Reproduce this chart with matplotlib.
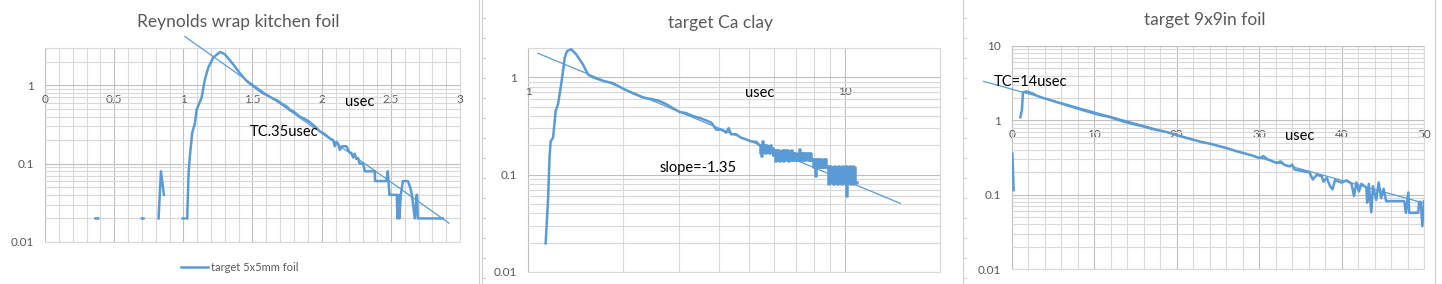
import numpy as np
import matplotlib
matplotlib.use("Agg")
import matplotlib.pyplot as plt
from matplotlib.patches import Rectangle
from matplotlib.lines import Line2D
from matplotlib.ticker import NullFormatter

nan = np.nan

# panel 1: Reynolds wrap kitchen foil (usec, signal)
foil_t = [0.365, 0.385, nan, 0.700, 0.712, nan, 0.995, 1.008, nan, 0.821,
          0.838, 0.860, nan, 1.028, 1.038, 1.047, 1.064, 1.084, 1.096, 1.132,
          1.156, 1.180, 1.216, 1.264, 1.300, 1.360, 1.409, 1.457, 1.505, 1.540,
          1.577, 1.610, 1.650, 1.680, 1.720, 1.745, 1.770, 1.800, 1.840, 1.880,
          1.914, 1.950, 1.986, 2.020, 2.060, 2.083, 2.095, 2.107, 2.119, 2.131,
          2.150, 2.179, 2.200, 2.215, 2.227, 2.239, 2.251, 2.263, 2.275, 2.300,
          2.312, 2.384, 2.386, 2.468, 2.478, 2.490, 2.507, 2.543, 2.548, 2.555,
          2.562, 2.572, 2.587, 2.623, 2.640, 2.652, 2.673, 2.686, 2.690, 2.695,
          2.876]
foil_v = [0.02, 0.02, nan, 0.02, 0.02, nan, 0.02, 0.02, nan, 0.02,
          0.08, 0.04, nan, 0.02, 0.076, 0.124, 0.247, 0.33, 0.49, 0.695,
          1.19, 1.68, 2.26, 2.67, 2.5, 1.86, 1.43, 1.14, 0.98, 0.88,
          0.79, 0.74, 0.675, 0.64, 0.57, 0.54, 0.49, 0.46, 0.40, 0.37,
          0.34, 0.30, 0.26, 0.24, 0.21, 0.20, 0.167, 0.19, 0.18, 0.15,
          0.167, 0.167, 0.14, 0.137, 0.12, 0.134, 0.115, 0.118, 0.10, 0.10,
          0.08, 0.08, 0.06, 0.06, 0.08, 0.04, 0.04, 0.04, 0.02, 0.04,
          0.02, 0.04, 0.06, 0.06, 0.05, 0.04, 0.02, 0.04, 0.04, 0.02,
          0.02]
foil_fit_t = [1.011, 2.921]
foil_fit_v = [4.2, 0.0174]

# panel 2: target Ca clay (log-log), smooth part
clay_t = [1.137, 1.157, 1.170, 1.179, 1.200, 1.223, 1.244, 1.268, 1.290, 1.306,
          1.328, 1.370, 1.420, 1.490, 1.547, 1.604, 1.725, 1.855, 1.995, 2.145,
          2.310, 2.480, 2.600, 2.730, 3.010, 3.150, 3.320, 3.500, 3.660, 3.800,
          3.930, 4.080, 4.230, 4.300, 4.380, 4.540, 4.700, 4.890, 5.050, 5.260,
          5.39]
clay_v = [0.0197, 0.056, 0.156, 0.22, 0.24, 0.45, 0.53, 0.78, 1.16, 1.59,
          1.86, 1.94, 1.72, 1.36, 1.07, 1.00, 0.92, 0.87, 0.765, 0.685,
          0.62, 0.594, 0.57, 0.53, 0.44, 0.43, 0.40, 0.38, 0.36, 0.34,
          0.29, 0.29, 0.27, 0.30, 0.26, 0.26, 0.24, 0.23, 0.22, 0.217,
          0.20]
# noisy tail where the counts flip between two levels
clay_noise_t = [5.39, 5.43, 5.47, 5.50, 5.54, 5.58, 5.62, 5.66, 5.70, 5.74,
                5.78, 5.82, 5.86, 5.90, 5.94, 5.98, 6.03, 6.08, 6.13, 6.18,
                6.23, 6.28, 6.33, 6.38, 6.43, 6.48, 6.53, 6.58, 6.63, 6.68,
                6.73, 6.78, 6.83, 6.89, 6.95, 7.01, 7.07, 7.13, 7.19, 7.21,
                7.25, 7.31, 7.37, 7.43, 7.49, 7.55, 7.61, 7.67, 7.73, 7.79,
                7.85, 7.91, 7.97, 8.03, 8.09, 8.12, 8.18, 8.24, 8.30, 8.36,
                8.42, 8.48, 8.54, 8.60, 8.66, 8.72, 8.78, 8.85, 8.92, 8.99,
                9.06, 9.13, 9.20, 9.27, 9.34, 9.41, 9.48, 9.55, 9.62, 9.69,
                9.76, 9.83, 9.90, 9.97, 10.04, 10.11, 10.15, 10.19, 10.26, 10.33,
                10.40, 10.47, 10.54, 10.61, 10.68, 10.75, 10.82, 10.90]
clay_noise_v = [0.20, 0.165, 0.155, 0.22, 0.17, 0.20, 0.165, 0.20, 0.17, 0.195,
                0.165, 0.20, 0.17, 0.19, 0.16, 0.18, 0.137, 0.178, 0.14, 0.18,
                0.137, 0.176, 0.14, 0.18, 0.137, 0.178, 0.14, 0.18, 0.137, 0.175,
                0.14, 0.178, 0.142, 0.168, 0.14, 0.166, 0.142, 0.168, 0.14, 0.182,
                0.142, 0.168, 0.14, 0.166, 0.142, 0.168, 0.14, 0.166, 0.142, 0.168,
                0.14, 0.144, 0.119, 0.144, 0.097, 0.144, 0.119, 0.144, 0.12, 0.144,
                0.119, 0.142, 0.12, 0.144, 0.119, 0.144, 0.12, 0.122, 0.08, 0.122,
                0.082, 0.12, 0.08, 0.122, 0.082, 0.12, 0.08, 0.122, 0.082, 0.12,
                0.08, 0.122, 0.082, 0.12, 0.08, 0.122, 0.06, 0.12, 0.082, 0.122,
                0.08, 0.12, 0.082, 0.122, 0.08, 0.12, 0.082, 0.085]
clay_fit_t = [1.075, 14.99]
clay_fit_v = [1.765, 0.0507]

# panel 3: target 9x9in foil
sheet_t = [0.04, 0.20, nan, 1.01, 1.12, 1.21, 1.33, 1.74, 2.50, 3.00,
           3.76, 4.80, 5.78, 6.80, 7.80, 8.80, 9.83, 10.80, 11.85, 12.90,
           13.90, 14.90, 15.90, 16.90, 17.90, 18.90, 19.90, 20.90, 21.97, 23.00,
           23.99, 25.00, 26.00, 26.80, 27.00, 28.00, 29.00, 30.06, 30.50, 31.00,
           32.10, 32.60, 33.10, 33.70, 34.00, 34.30, 35.00, 36.10, 36.50, 37.00,
           37.60, 37.80, 38.20, 38.60, 38.90, 39.20, 40.00, 40.60, 41.20, 41.50,
           41.80, 42.10, 42.40, 43.00, 43.10, 43.30, 43.60, 43.80, 44.20, 44.50,
           44.80, 45.10, 45.40, 47.60, 47.80, 48.10, 48.20, 49.30, 49.40, 49.60,
           49.80, 50.00]
sheet_v = [0.357, 0.115, nan, 1.10, 1.25, 1.39, 2.38, 2.45, 2.30, 2.15,
           2.00, 1.85, 1.71, 1.58, 1.46, 1.35, 1.25, 1.17, 1.11, 1.01,
           0.94, 0.88, 0.83, 0.77, 0.73, 0.69, 0.64, 0.59, 0.55, 0.51,
           0.486, 0.455, 0.425, 0.40, 0.39, 0.365, 0.34, 0.31, 0.33, 0.30,
           0.267, 0.28, 0.25, 0.24, 0.254, 0.218, 0.21, 0.20, 0.16, 0.185,
           0.177, 0.15, 0.168, 0.13, 0.118, 0.157, 0.145, 0.156, 0.141, 0.096,
           0.146, 0.11, 0.14, 0.125, 0.078, 0.14, 0.058, 0.13, 0.085, 0.146,
           0.09, 0.12, 0.082, 0.082, 0.057, 0.107, 0.057, 0.057, 0.08, 0.08,
           0.0377, 0.082]
sheet_fit_t = [-3.44, 49.88]
sheet_fit_v = [3.34, 0.0777]

BLUE = "#5B9BD5"
GRAY_TXT = "#595959"
MAJ = "#BFBFBF"
MIN = "#D9D9D9"
W, H = 1442, 284

plt.rcParams['font.family'] = ['Lato', 'DejaVu Sans']

fig = plt.figure(figsize=(W / 100, H / 100), dpi=100)


def box(l, t, r, b):
    return [l / W, 1 - b / H, (r - l) / W, (b - t) / H]


def fmt(v):
    return "%g" % v


def style(ax, ylim, yticks, ymin, xmaj, xmin):
    ax.set_yscale('log')
    ax.set_ylim(*ylim)
    ax.set_yticks(yticks, [fmt(v) for v in yticks])
    ax.set_yticks(ymin, minor=True)
    ax.yaxis.set_minor_formatter(NullFormatter())
    ax.set_xticks(xmaj, [fmt(v) for v in xmaj])
    ax.set_xticks(xmin, minor=True)
    ax.xaxis.set_minor_formatter(NullFormatter())
    ax.grid(True, which='major', color=MAJ, lw=0.8)
    ax.grid(True, which='minor', color=MIN, lw=0.8)
    ax.set_axisbelow(True)
    ax.spines['bottom'].set_position(('data', 1))
    for s in ax.spines.values():
        s.set_color('none')
    ax.tick_params(which='both', length=0)
    ax.tick_params(axis='y', pad=8, labelsize=8.5, labelcolor=GRAY_TXT)
    ax.tick_params(axis='x', pad=6, labelsize=8.5, labelcolor=GRAY_TXT)
    ax.add_patch(Rectangle((0, 0), 1, 1, transform=ax.transAxes, fill=False,
                           ec=MIN, lw=0.8, clip_on=False, zorder=0.5))


def minors(lo, hi):
    out = []
    d = lo
    while d < hi:
        out += [d * k for k in range(2, 10) if d * k < hi * 1.0001]
        d *= 10
    return out


# panel 1
ax1 = fig.add_axes(box(45, 48, 460, 242))
ax1.set_xlim(0, 3)
style(ax1, (0.01, 3), [0.01, 0.1, 1], minors(0.01, 3),
      [0, 0.5, 1, 1.5, 2, 2.5, 3], [i / 10 for i in range(31)])
ax1.plot(foil_t, foil_v, color=BLUE, lw=1.8)
ax1.plot(foil_fit_t, foil_fit_v, color=BLUE, lw=0.9, clip_on=False)
ax1.legend(handles=[Line2D([], [], color=BLUE, lw=1.8)], labels=['target 5x5mm foil'],
           loc='center', bbox_to_anchor=(0.47, -0.13), frameon=False,
           fontsize=8, labelcolor=GRAY_TXT, handlelength=2.4, handletextpad=0.3)

# panel 2
ax2 = fig.add_axes(box(528, 48, 940, 272))
ax2.set_xscale('log')
ax2.set_xlim(1, 20)
style(ax2, (0.01, 2), [0.01, 0.1, 1], minors(0.01, 2),
      [1, 10], minors(1, 20))
ax2.plot(clay_t, clay_v, color=BLUE, lw=1.8)
ax2.plot(clay_noise_t, clay_noise_v, color=BLUE, lw=1.8, drawstyle='steps-mid')
ax2.plot(clay_fit_t, clay_fit_v, color=BLUE, lw=0.9, clip_on=False)

# panel 3
ax3 = fig.add_axes(box(1012, 46, 1424, 269))
ax3.set_xlim(0, 50)
style(ax3, (0.01, 10), [0.01, 0.1, 1, 10], minors(0.01, 10),
      [0, 10, 20, 30, 40, 50], list(range(0, 51, 2)))
ax3.plot(sheet_t, sheet_v, color=BLUE, lw=1.8)
ax3.plot(sheet_fit_t, sheet_fit_v, color=BLUE, lw=0.9, clip_on=False)


def ftext(x, y, s, **kw):
    fig.text(x / W, 1 - y / H, s, ha='center', va='center', **kw)


ftext(238, 22, 'Reynolds wrap kitchen foil', fontsize=12.5, color=GRAY_TXT)
ftext(721, 23, 'target Ca clay', fontsize=12.5, color=GRAY_TXT)
ftext(1205, 20, 'target 9x9in foil', fontsize=12.5, color=GRAY_TXT)

ftext(360, 102, 'usec', fontsize=10.5, color='black')
ftext(284, 132, 'TC.35usec', fontsize=10.5, color='black')
ftext(760, 93, 'usec', fontsize=10.5, color='black')
ftext(698, 168, 'slope=-1.35', fontsize=10.5, color='black')
ftext(1300, 136, 'usec', fontsize=10.5, color='black')
ftext(1031, 82, 'TC=14usec', fontsize=10.5, color='black')

# sheet cell borders between the charts
for xs in (478.5, 481.5, 962.5, 1434.5):
    fig.add_artist(Line2D([xs / W, xs / W], [0, 1], color='#D0D0D0', lw=0.8))
for xs in (481.5, 962.5):
    for yy in range(18, 284, 20):
        fig.add_artist(Line2D([xs / W, (xs + 3) / W], [1 - yy / H, 1 - yy / H],
                              color='#D0D0D0', lw=0.8))

fig.savefig('out.png', dpi=100)
